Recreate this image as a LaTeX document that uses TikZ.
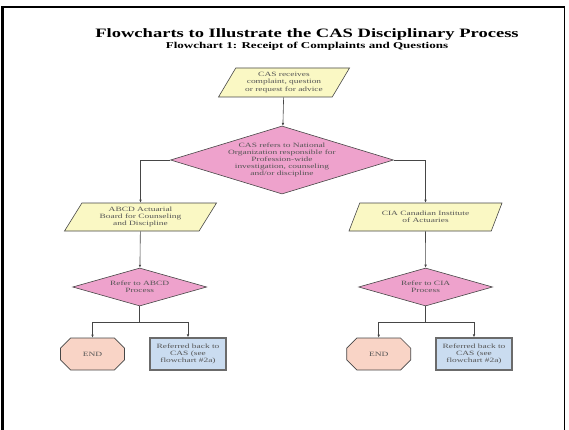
\documentclass[tikz,border=0pt]{standalone}
\usepackage{fontspec}
\setmainfont{Liberation Serif}[FakeStretch=1.45]
\usepackage{tikz}
\usetikzlibrary{positioning,shapes,arrows.meta}
\definecolor{paleyellow}{RGB}{250,248,196}
\definecolor{Pink}{RGB}{238,162,204}
\definecolor{salmon}{RGB}{249,212,198}
\definecolor{paleblue}{RGB}{202,220,240}
\definecolor{edgegray}{RGB}{70,70,70}
\definecolor{txtgray}{RGB}{85,85,85}
\tikzstyle{io}=[%
      trapezium, trapezium left angle=52, trapezium right angle=128, trapezium stretches body,
      draw=edgegray, line width=0.6pt, fill=paleyellow, text=txtgray,
      font=\fontsize{6.5}{7.2}\selectfont, align=center, minimum height=29pt, inner sep=1pt
]
\tikzstyle{dec}=[%
      diamond, draw=edgegray, line width=0.6pt, fill=Pink, text=txtgray,
      font=\fontsize{6.5}{7.2}\selectfont, align=center, inner sep=0pt
]
\tikzstyle{en}=[%
      chamfered rectangle, chamfered rectangle xsep=10pt, chamfered rectangle ysep=8pt,
      draw=edgegray, line width=0.6pt, fill=salmon, text=txtgray,
      font=\fontsize{6.5}{7.2}\selectfont, minimum width=64pt, minimum height=32pt, inner sep=0pt
]
\tikzstyle{bk}=[%
      rectangle, draw=edgegray!80, line width=1.3pt, fill=paleblue, text=txtgray,
      font=\fontsize{6.5}{7.2}\selectfont, align=center, minimum width=76pt, minimum height=32pt, inner sep=1pt
]

\begin{document}
\begin{tikzpicture}[x=1pt, y=-1pt,
    -{Latex[length=3pt,width=2.6pt]}, draw=edgegray, line width=0.6pt
  ]
    \useasboundingbox (0,0) rectangle (569,430);
    % frame
    \draw[-, black, line width=3pt] (2.5,430) -- (2.5,7);
    \draw[-, black, line width=2.5pt] (1,7) -- (564.5,7);
    \draw[-, black, line width=1pt] (564,7) -- (564,430);

    \node[font=\bfseries\fontsize{12.8}{14}\selectfont] (title)    at (307,34)  {Flowcharts to Illustrate the CAS Disciplinary Process};
    \node[font=\bfseries\fontsize{9}{10}\selectfont]    (subtitle) at (307,46.5) {Flowchart 1: Receipt of Complaints and Questions};

    \node[io, minimum width=131pt]  (receive) at (284,82.5) {CAS receives\\complaint, question\\or request for advice};
    \node[dec, aspect=3.28, minimum width=223pt, minimum height=68pt] (refer) at (282,160)
          {CAS refers to National\\Organization responsible for\\Profession-wide\\investigation, counseling\\and/or discipline};

    \node[io, minimum width=152pt, minimum height=28pt]  (abcd) at (140.5,217) {ABCD Actuarial\\Board for Counseling\\and Discipline};
    \node[io, minimum width=153pt, minimum height=28pt]  (cia)  at (425.5,217) {CIA Canadian Institute\\of Actuaries};

    \node[dec, aspect=3.55, minimum width=134pt, minimum height=38pt] (abcdref) at (139.7,287) {Refer to ABCD\\Process};
    \node[dec, aspect=3.55, minimum width=134pt, minimum height=38pt] (ciaref)  at (425.6,287) {Refer to CIA\\Process};

    \node[en]            (end1)  at (92.5,354)  {END};
    \node[bk]            (back1) at (188,354)   {Referred back to\\CAS (see\\flowchart \#2a)};
    \node[en]            (end2)  at (378.7,354) {END};
    \node[bk]            (back2) at (474,354)   {Referred back to\\CAS (see\\flowchart \#2a)};

    \draw (receive) -- (refer);
    \draw (refer.west) -| (abcd.north);
    \draw (refer.east) -| (cia.north);
    \draw (abcd) -- (abcdref);
    \draw (cia) -- (ciaref);

    \draw[-] (abcdref.south) -- ++(0,16) coordinate (abcdsplit);
    \draw (abcdsplit) -| (end1.north);
    \draw (abcdsplit) -| (back1.north);
    \draw[-] (ciaref.south) -- ++(0,16) coordinate (ciasplit);
    \draw (ciasplit) -| (end2.north);
    \draw (ciasplit) -| (back2.north);
  \end{tikzpicture}
\end{document}
